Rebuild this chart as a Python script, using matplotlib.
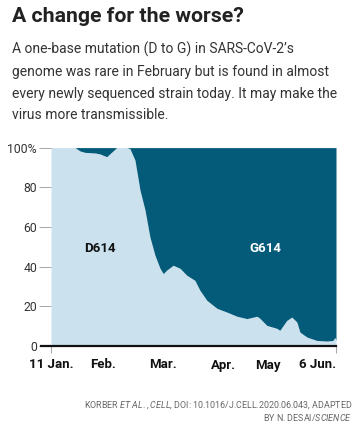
import matplotlib
matplotlib.use("Agg")
import matplotlib.pyplot as plt
from matplotlib.lines import Line2D

plt.rcParams["mathtext.fontset"] = "custom"
plt.rcParams["mathtext.rm"] = "Roboto"
plt.rcParams["mathtext.it"] = "Roboto:italic"

# Days since 11 Jan 2020
days = [0, 12.4, 15, 17.5, 22.7, 25.3, 28.7, 31.4, 33.9, 39, 40.7, 43.3, 45.9, 48.5,
        51, 53.6, 56.2, 57.9, 59.6, 63, 66.5, 70, 74.2, 76.8, 80.4, 85.6, 90.7, 95.9,
        101, 106.2, 107.7, 111.3, 116.5, 118, 121.6, 124.2, 126.8, 128.4, 132, 137.1,
        142.3, 145.4, 146.4, 147]
# Share of D614 (%)
d614 = [100, 100, 98.3, 97.6, 97.3, 96.8, 95.4, 97.8, 100, 100, 99.5, 93.7, 78.6, 68.5,
        55, 45.8, 39.2, 36.5, 38.2, 40.7, 39.2, 35.7, 33.1, 28.1, 23, 19, 17.1, 15,
        13.8, 15, 14, 10.4, 8.9, 7.9, 12.9, 14.6, 12.1, 7, 4.5, 2.8,
        2.5, 2.8, 4.3, 3]

yticks = [0, 20, 40, 60, 80, 100]
ytick_labels = ["0", "20", "40", "60", "80", "100%"]
end_ticks = [0, 147]
end_labels = ["11 Jan.", "6 Jun."]
month_ticks = [26.8, 57.7, 88.7, 112]
month_labels = ["Feb.", "Mar.", "Apr.", "May"]

light = "#cbe2ee"
dark = "#045a79"

W, H = 358, 430
fig = plt.figure(figsize=(W / 100, H / 100), dpi=100)
fig.patch.set_facecolor("white")

ax = fig.add_axes([51 / W, 1 - 346 / H, 285 / W, (346 - 147.6) / H])
ax.fill_between(days, 0, d614, color=light, lw=0)
ax.fill_between(days, d614, 100, color=dark, lw=0)
ax.set_xlim(0, 147)
ax.set_ylim(0, 100)
for s in ax.spines.values():
    s.set_visible(False)

ax.set_yticks(yticks)
ax.set_yticklabels(ytick_labels, fontsize=8.8, color="#333333", family="Roboto")
ax.tick_params(axis="y", length=9, width=0.6, color="#999999", pad=1)

ax.set_xticks(end_ticks)
ax.set_xticklabels(end_labels, fontsize=9.5, fontweight="bold", color="#111111", family="Roboto")
ax.set_xticks(month_ticks, minor=True)
ax.set_xticklabels(month_labels, minor=True, fontsize=9.5, fontweight="bold", color="#111111", family="Roboto")
ax.tick_params(axis="x", which="major", length=5, width=0.8, color="#aaaaaa", pad=4)
ax.tick_params(axis="x", which="minor", length=0, pad=9)
labs = ax.get_xticklabels()
labs[0].set_horizontalalignment("center")
labs[1].set_horizontalalignment("right")

# baseline
ax.add_line(Line2D([-10 / 285, 1], [0, 0], transform=ax.transAxes, color="#111111",
                   lw=1.6, clip_on=False))

ax.text(25.3, 49.3, "D614", fontsize=9.5, fontweight="bold", color="#111111",
        ha="center", va="center", family="Roboto")
ax.text(110.7, 49.3, "G614", fontsize=9.5, fontweight="bold", color="white",
        ha="center", va="center", family="Roboto")

fig.text(12 / W, 1 - 7 / H, "A change for the worse?", fontsize=15.3, fontweight="bold",
         color="#222222", ha="left", va="top", family="Roboto")
sub = ("A one-base mutation (D to G) in SARS-CoV-2\u2019s\n"
       "genome was rare in February but is found in almost\n"
       "every newly sequenced strain today. It may make the\n"
       "virus more transmissible.")
fig.text(12 / W, 1 - 42 / H, sub, fontsize=10, color="#333333", ha="left", va="top",
         linespacing=1.7, family="Roboto")

fig.text(352 / W, 1 - 399 / H,
         "KORBER $\\it{ET\\ AL.}$, $\\it{CELL}$, DOI: 10.1016/J.CELL.2020.06.043, ADAPTED",
         fontsize=6.4, color="#666666", ha="right", va="top", family="Roboto")
fig.text(352 / W, 1 - 412 / H, "BY N. DESAI/$\\it{SCIENCE}$",
         fontsize=6.4, color="#666666", ha="right", va="top", family="Roboto")

fig.savefig("out.png", dpi=100)
